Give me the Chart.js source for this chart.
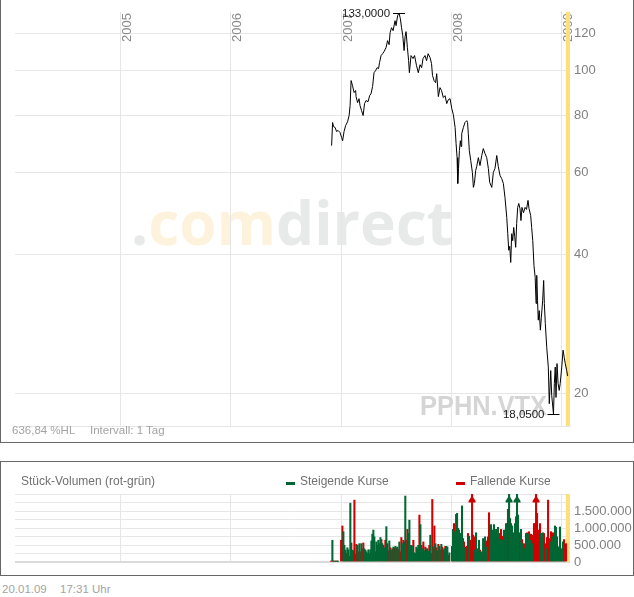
<!DOCTYPE html>
<html><head><meta charset="utf-8">
<script src="https://cdn.jsdelivr.net/npm/chart.js@4/dist/chart.umd.min.js"></script>
<style>
html,body{margin:0;padding:0;background:#fff;}
body{width:634px;height:597px;position:relative;overflow:hidden;font-family:'Liberation Sans',Arial,sans-serif;}
.box{position:absolute;box-sizing:border-box;border:1px solid #666;}
#mainBox{left:0;top:-1px;width:634px;height:444px;}
#volBox{left:0;top:461px;width:634px;height:115px;}
canvas{position:absolute;left:0;}
#c1{top:0}
#c2{top:462px}
.t{position:absolute;font-size:11.5px;line-height:13px;white-space:nowrap;}
.l{font-size:12px;}
.g{color:#a3a3a3}
.d{color:#707070}
.mk{position:absolute;width:9px;height:3px;}
</style></head>
<body>
<div class="box" id="mainBox"></div>
<div class="box" id="volBox"></div>
<canvas id="c1" width="634" height="442"></canvas>
<canvas id="c2" width="634" height="112"></canvas>
<div class="t g" style="left:12px;top:424px">636,84 %HL</div>
<div class="t g" style="left:90px;top:424px">Intervall: 1 Tag</div>
<div class="t l d" style="left:21px;top:475px">Stück-Volumen (rot-grün)</div>
<div class="mk" style="left:286px;top:482px;background:#006633"></div>
<div class="t l d" style="left:300px;top:475px">Steigende Kurse</div>
<div class="mk" style="left:456px;top:482px;background:#d00000"></div>
<div class="t l d" style="left:470px;top:475px">Fallende Kurse</div>
<div class="t g" style="left:2px;top:583px">20.01.09</div>
<div class="t g" style="left:60px;top:583px">17:31 Uhr</div>
<script>
// ---------- DATA ----------
const yearTicks = [2005, 2006, 2007, 2008, 2009];
const priceTicks = [20, 40, 60, 80, 100, 120];
const volTicks = [0, 500000, 1000000, 1500000];
const volGrid = [0, 250000, 500000, 750000, 1000000, 1250000, 1500000, 1750000, 2000000];
const symbol = 'PPHN.VTX';

const priceTimes = [
2006.914,2006.923,2006.932,2006.946,2006.959,2006.973,2006.991,2007.005,2007.014,2007.027,
2007.041,2007.059,2007.073,2007.082,2007.091,2007.104,2007.118,2007.132,2007.136,2007.150,
2007.163,2007.172,2007.186,2007.200,2007.213,2007.227,2007.245,2007.259,2007.272,2007.286,
2007.299,2007.313,2007.327,2007.340,2007.349,2007.363,2007.377,2007.390,2007.408,2007.422,
2007.436,2007.445,2007.458,2007.472,2007.490,2007.499,2007.513,2007.526,2007.538,2007.549,
2007.560,2007.572,2007.581,2007.590,2007.602,2007.613,2007.620,2007.635,2007.653,2007.667,
2007.685,2007.701,2007.717,2007.731,2007.744,2007.762,2007.776,2007.790,2007.808,2007.821,
2007.830,2007.844,2007.858,2007.868,2007.883,2007.898,2007.912,2007.928,2007.944,2007.959,
2007.974,2007.989,2008.005,2008.019,2008.035,2008.044,2008.053,2008.059,2008.066,2008.074,
2008.083,2008.089,2008.095,2008.110,2008.125,2008.141,2008.148,2008.155,2008.164,2008.177,
2008.192,2008.201,2008.210,2008.222,2008.231,2008.246,2008.261,2008.277,2008.291,2008.307,
2008.322,2008.337,2008.349,2008.368,2008.382,2008.397,2008.413,2008.427,2008.443,2008.458,
2008.473,2008.488,2008.504,2008.513,2008.522,2008.531,2008.540,2008.549,2008.558,2008.567,
2008.576,2008.585,2008.594,2008.603,2008.613,2008.624,2008.633,2008.642,2008.656,2008.670,
2008.683,2008.697,2008.706,2008.721,2008.730,2008.740,2008.751,2008.762,2008.770,2008.776,
2008.783,2008.790,2008.799,2008.809,2008.818,2008.830,2008.839,2008.845,2008.854,2008.867,
2008.881,2008.890,2008.903,2008.912,2008.928,2008.936,2008.944,2008.951,2008.960,2008.970,
2008.980,2008.989,2009.003,2009.015,2009.026,2009.035,2009.048,2009.057];
const prices = [
68.7,77.1,75.5,75.2,73.7,74.1,73.3,71.5,70.4,73.7,
75.9,77.4,79.8,83.9,95.0,92.6,89.5,90.4,87.7,85.1,
86.8,83.9,81.8,79.8,84.7,86.0,85.5,88.1,89.0,92.2,
98.8,99.8,101.3,100.8,103.9,107.6,108.6,109.7,111.9,115.9,
113.6,120.6,123.6,121.8,128.0,124.9,131.2,133.0,129.3,123.6,
118.8,110.3,118.2,121.2,111.9,104.9,98.8,107.6,106.0,107.6,
102.3,98.8,102.8,101.3,106.0,107.6,104.9,108.6,106.5,103.4,
97.4,95.0,94.0,98.3,87.7,91.7,90.4,87.3,88.1,84.7,
86.4,86.8,82.6,80.2,75.2,69.4,64.7,56.9,61.3,67.0,
70.4,68.4,72.9,75.2,77.1,77.8,77.1,72.9,67.0,63.8,
60.1,55.8,56.9,60.7,61.9,64.7,62.2,65.4,67.7,66.0,
64.7,61.3,57.2,55.8,60.1,61.3,65.4,61.9,59.2,58.3,
56.9,53.0,48.0,44.3,40.8,41.6,38.4,44.3,42.8,45.7,
43.7,41.4,46.6,50.5,51.5,50.2,47.3,50.5,49.2,50.5,
50.0,52.3,50.2,48.5,45.7,42.8,37.8,35.6,31.3,36.0,
31.8,28.8,30.2,27.4,29.2,31.8,35.1,31.3,28.3,25.1,
22.8,19.0,22.4,19.8,18.05,21.0,22.8,19.6,23.2,21.0,
20.3,21.0,22.8,24.8,23.9,23.2,22.4,21.8];

const volTimes = [
2006.909,2006.921,2006.927,2006.936,2006.946,2006.955,2006.964,2006.973,
2007.000,2007.012,2007.021,2007.030,2007.039,2007.048,2007.057,2007.066,2007.075,2007.084,
2007.093,2007.103,2007.112,2007.121,2007.130,2007.139,2007.148,2007.157,2007.166,2007.175,
2007.184,2007.193,2007.202,2007.211,2007.221,2007.230,2007.239,2007.248,2007.257,2007.266,
2007.275,2007.284,2007.293,2007.302,2007.311,2007.320,2007.329,2007.338,2007.348,2007.357,
2007.366,2007.375,2007.384,2007.393,2007.402,2007.411,2007.420,2007.429,2007.438,2007.447,
2007.456,2007.466,2007.475,2007.484,2007.493,2007.502,2007.511,2007.520,2007.529,2007.538,
2007.547,2007.556,2007.565,2007.574,2007.583,2007.593,2007.602,2007.611,2007.620,2007.629,
2007.638,2007.647,2007.656,2007.665,2007.674,2007.683,2007.692,2007.701,2007.711,2007.720,
2007.729,2007.738,2007.747,2007.756,2007.765,2007.774,2007.783,2007.792,2007.801,2007.810,
2007.819,2007.828,2007.838,2007.847,2007.856,2007.865,2007.874,2007.883,2007.892,2007.901,
2007.910,2007.919,2007.928,2007.937,2007.946,2007.956,2007.965,2007.974,2007.983,
2008.007,2008.016,2008.025,2008.034,2008.044,2008.053,2008.062,2008.071,2008.080,2008.089,
2008.098,2008.107,2008.116,2008.125,2008.134,2008.143,2008.152,2008.162,2008.171,2008.180,
2008.189,2008.198,2008.207,2008.216,2008.225,2008.234,2008.243,2008.252,2008.261,2008.270,
2008.280,2008.289,2008.298,2008.307,2008.316,2008.325,2008.334,2008.343,2008.352,2008.361,
2008.370,2008.379,2008.388,2008.398,2008.407,2008.416,2008.425,2008.434,2008.443,2008.452,
2008.461,2008.470,2008.479,2008.488,2008.497,2008.506,2008.515,2008.525,2008.534,2008.543,
2008.552,2008.561,2008.570,2008.579,2008.588,2008.597,2008.606,2008.615,2008.624,2008.633,
2008.643,2008.652,2008.661,2008.670,2008.679,2008.688,2008.697,2008.706,2008.715,2008.724,
2008.733,2008.742,2008.751,2008.761,2008.770,2008.779,2008.788,2008.797,2008.806,2008.815,
2008.824,2008.833,2008.842,2008.851,2008.860,2008.869,2008.879,2008.888,2008.897,2008.906,
2008.915,2008.924,2008.933,2008.942,2008.951,2008.960,2008.969,2008.978,2008.987,2008.996,
2009.005,2009.014,2009.024,2009.033,2009.042];
const volumes = [
20000,640000,20000,20000,20000,20000,20000,20000,
640000,1060000,890000,490000,350000,250000,420000,360000,170000,1730000,
560000,350000,330000,1820000,230000,520000,490000,300000,540000,300000,
540000,390000,560000,390000,350000,300000,250000,360000,250000,360000,
620000,820000,940000,740000,300000,590000,490000,640000,540000,720000,
660000,540000,490000,420000,640000,1040000,540000,330000,620000,420000,
350000,390000,440000,410000,460000,410000,440000,360000,590000,300000,
720000,540000,640000,590000,1940000,640000,960000,840000,1230000,490000,
490000,460000,640000,270000,250000,440000,390000,490000,1380000,1100000,
490000,390000,590000,330000,440000,390000,390000,320000,490000,790000,
250000,1840000,440000,1060000,540000,420000,330000,520000,460000,360000,
520000,440000,350000,390000,460000,460000,440000,200000,270000,
460000,960000,1130000,890000,1400000,1430000,990000,940000,790000,840000,
1650000,690000,590000,420000,440000,460000,840000,760000,640000,440000,
2600000,790000,740000,350000,860000,390000,360000,640000,350000,300000,
250000,690000,590000,740000,620000,440000,740000,1450000,640000,1100000,
940000,660000,1100000,860000,960000,740000,1020000,840000,660000,960000,
640000,760000,940000,740000,1130000,1130000,1550000,2500000,1280000,1130000,
1060000,860000,760000,1130000,1330000,2400000,1380000,840000,860000,960000,
660000,540000,390000,540000,840000,860000,820000,890000,640000,820000,
540000,790000,1130000,1130000,2700000,1430000,940000,890000,1130000,840000,
740000,860000,840000,540000,390000,720000,1820000,690000,590000,890000,
740000,860000,360000,1060000,1020000,740000,440000,440000,1030000,350000,
390000,590000,660000,360000,540000];
const volUp = [
0,1,0,1,0,1,0,1,
0,0,1,1,1,0,1,1,0,1,
0,1,0,0,0,0,1,0,1,0,
1,0,0,1,1,1,1,1,1,1,
1,1,1,1,0,1,1,1,0,1,
0,1,0,1,0,1,0,0,1,0,
1,0,1,0,1,0,1,0,1,0,
0,1,0,1,1,0,0,1,1,1,
0,1,0,1,0,1,0,1,0,1,
0,1,0,1,0,1,0,1,0,1,
0,0,1,0,1,0,1,0,1,0,
1,0,0,1,0,1,1,0,1,
0,1,0,1,1,1,1,1,0,1,
1,1,0,1,0,0,0,1,0,0,
0,0,0,1,1,1,0,1,0,1,
0,1,0,1,0,1,0,0,1,1,
1,0,1,0,1,0,1,0,1,0,
1,0,1,0,1,0,0,1,1,0,
1,0,1,1,1,1,1,0,0,1,
0,1,1,0,1,0,1,0,1,0,
1,0,0,0,0,0,0,0,0,1,
0,1,0,0,1,0,0,0,1,0,
1,0,1,1,1,0,1,1,1,0,
1,1,0,0,0];

// ---------- STYLE ----------
Chart.defaults.font.family = "'Liberation Sans', Arial, sans-serif";
const GRID = '#e6e6e6';
const GREEN = '#006633', RED = '#d00000', BAND = '#fde07c';
const X_MIN = 2004.04, X_MAX = 2009.078, BAND_FROM = 2009.04;

const fmtDE = v => String(v).replace(/\B(?=(\d{3})+(?!\d))/g, '.');

const bandPlugin = {
  id: 'band',
  beforeDatasetsDraw(chart) {
    const {ctx, chartArea: a, scales: {x}} = chart;
    const x0 = x.getPixelForValue(BAND_FROM);
    ctx.save();
    ctx.fillStyle = BAND;
    ctx.fillRect(x0, a.top, a.right - x0, a.bottom - a.top);
    ctx.restore();
  }
};

const watermarkPlugin = {
  id: 'wm',
  beforeDraw(chart) {
    const ctx = chart.ctx;
    ctx.save();
    const parts = [['.', '#e8e9e9'], ['com', '#fdf3dd'], ['direct', '#e8e9e9']];
    ctx.font = "bold 70px 'Open Sans'";
    let total = 0; parts.forEach(p => total += ctx.measureText(p[0]).width);
    const size = 70 * 322 / total;
    ctx.font = "bold " + size + "px 'Open Sans'";
    ctx.textBaseline = 'alphabetic';
    let x = 131;
    parts.forEach(p => { ctx.fillStyle = p[1]; ctx.fillText(p[0], x, 245); x += ctx.measureText(p[0]).width; });
    ctx.restore();
  },
  beforeDatasetsDraw(chart) {
    const {ctx, scales: {x}} = chart;
    ctx.save();
    ctx.font = "bold 27px 'Liberation Sans', Arial";
    const w = ctx.measureText(symbol).width;
    ctx.translate(420, 415);
    ctx.scale(127 / w, 1);
    ctx.fillStyle = '#d5d5d5';
    ctx.textBaseline = 'alphabetic';
    ctx.fillText(symbol, 0, 0);
    ctx.restore();
    ctx.save();
    ctx.font = "13px 'Liberation Sans', Arial";
    ctx.fillStyle = '#8a8a8a';
    ctx.textAlign = 'right';
    ctx.textBaseline = 'alphabetic';
    yearTicks.forEach(y => {
      const px = x.getPixelForValue(y);
      ctx.save();
      ctx.translate(px + 10.5, 13);
      ctx.rotate(-Math.PI / 2);
      ctx.fillText(String(y), 0, 0);
      ctx.restore();
    });
    ctx.restore();
  },
  afterDatasetsDraw(chart) {
    const {ctx} = chart;
    const meta = chart.getDatasetMeta(0);
    let iMax = 0, iMin = 0;
    prices.forEach((v, i) => { if (v > prices[iMax]) iMax = i; if (v < prices[iMin]) iMin = i; });
    ctx.save();
    ctx.strokeStyle = '#000'; ctx.lineWidth = 1;
    ctx.fillStyle = '#1a1a1a';
    ctx.font = "11.5px 'Liberation Sans', Arial";
    ctx.textAlign = 'right'; ctx.textBaseline = 'middle';
    [iMax, iMin].forEach(i => {
      const p = meta.data[i];
      const yy = Math.round(p.y) + 0.5;
      ctx.beginPath(); ctx.moveTo(p.x - 6, yy); ctx.lineTo(p.x + 6, yy); ctx.stroke();
      ctx.fillText(prices[i].toFixed(4).replace('.', ','), p.x - 9, p.y + 0.5);
    });
    ctx.restore();
  }
};

new Chart(document.getElementById('c1'), {
  type: 'line',
  data: { datasets: [{
    data: priceTimes.map((t, i) => ({x: t, y: prices[i]})),
    borderColor: '#000', borderWidth: 1, pointRadius: 0, tension: 0, fill: false
  }]},
  options: {
    responsive: false, animation: false, events: [],
    layout: { padding: { left: 15, top: 11, right: 0, bottom: 16 } },
    plugins: { legend: { display: false }, tooltip: { enabled: false } },
    scales: {
      x: {
        type: 'linear', min: X_MIN, max: X_MAX,
        afterBuildTicks: s => { s.ticks = yearTicks.map(v => ({value: v})); },
        grid: { color: GRID, drawTicks: false },
        border: { display: true, color: GRID },
        ticks: { display: false },
        afterFit: s => { s.height = 0; }
      },
      y: {
        type: 'logarithmic', position: 'right', min: 17, max: 133.8,
        afterBuildTicks: s => { s.ticks = priceTicks.map(v => ({value: v})); },
        grid: { color: GRID, drawTicks: false },
        border: { display: false },
        ticks: { color: '#808080', font: { size: 13 }, padding: 4, autoSkip: false, callback: v => String(v) },
        afterFit: s => { s.width = 64; }
      }
    }
  },
  plugins: [watermarkPlugin, bandPlugin]
});

const arrowPlugin = {
  id: 'arrows',
  afterDatasetsDraw(chart) {
    const {ctx, chartArea: a, scales: {x, y}} = chart;
    ctx.save();
    volumes.forEach((v, i) => {
      if (v <= y.max) return;
      const px = x.getPixelForValue(volTimes[i]);
      ctx.fillStyle = volUp[i] ? GREEN : RED;
      ctx.beginPath();
      ctx.moveTo(px - 3.5, a.top + 7);
      ctx.lineTo(px, a.top + 1.5);
      ctx.lineTo(px + 3.5, a.top + 7);
      ctx.closePath();
      ctx.fill();
      ctx.fillRect(px - 3.5, a.top + 7, 7, 1.5);
    });
    ctx.restore();
  }
};

const upData = [], downData = [];
volTimes.forEach((t, i) => { (volUp[i] ? upData : downData).push({x: t, y: volumes[i]}); });

new Chart(document.getElementById('c2'), {
  type: 'bar',
  data: { datasets: [
    { label: 'Steigende Kurse', data: upData, backgroundColor: GREEN, barThickness: 1.4, grouped: false, clip: 0 },
    { label: 'Fallende Kurse', data: downData, backgroundColor: RED, barThickness: 1.4, grouped: false, clip: 0 }
  ]},
  options: {
    responsive: false, animation: false, events: [],
    layout: { padding: { left: 15, top: 32, right: 0, bottom: 12 } },
    plugins: { legend: { display: false }, tooltip: { enabled: false } },
    scales: {
      x: {
        type: 'linear', min: X_MIN, max: X_MAX, offset: false,
        afterBuildTicks: s => { s.ticks = yearTicks.map(v => ({value: v})); },
        grid: { color: GRID, drawTicks: false, offset: false },
        border: { display: false },
        ticks: { display: false },
        afterFit: s => { s.height = 0; }
      },
      y: {
        position: 'right', min: 0, max: 2000000,
        afterBuildTicks: s => { s.ticks = volGrid.map(v => ({value: v})); },
        grid: { drawTicks: false,
          color: c => (c.tick && c.tick.value === 0) ? '#dadada' : GRID,
          lineWidth: c => (c.tick && c.tick.value === 0) ? 2 : 1 },
        border: { display: false },
        ticks: { color: '#808080', font: { size: 13 }, padding: 4, autoSkip: false,
          callback: v => volTicks.includes(v) ? fmtDE(v) : '' },
        afterFit: s => { s.width = 64; }
      }
    }
  },
  plugins: [bandPlugin, arrowPlugin]
});
</script>
</body></html>
